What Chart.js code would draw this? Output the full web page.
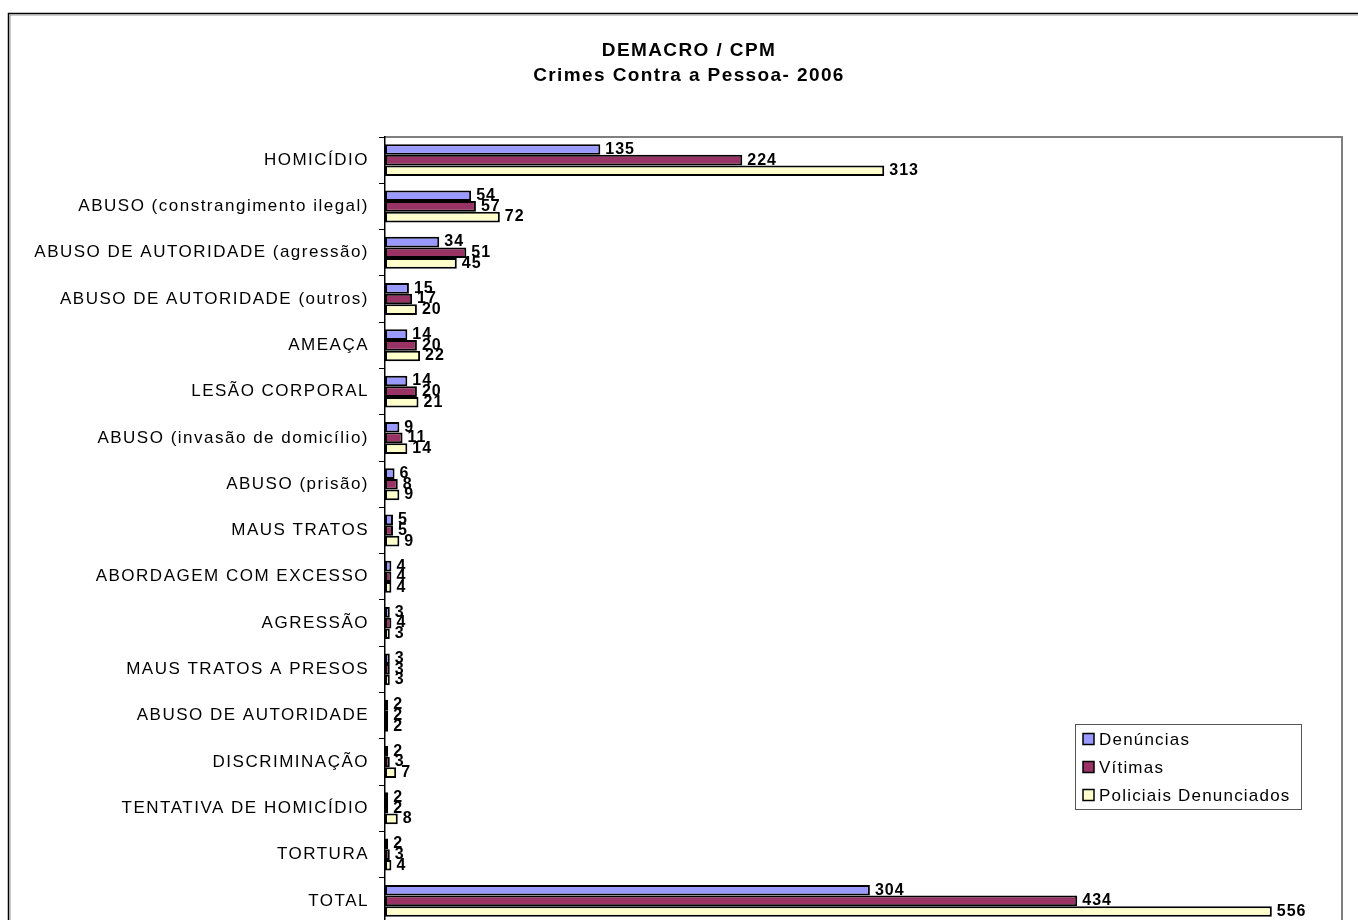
<!DOCTYPE html>
<html>
<head>
<meta charset="utf-8">
<script src="https://cdn.jsdelivr.net/npm/chart.js@4.4.1/dist/chart.umd.min.js"></script>
<style>
  html, body { margin:0; padding:0; background:#fff; overflow:hidden; }
  #wrap { position:relative; width:1358px; height:960px; }
</style>
</head>
<body>
<div id="wrap"><canvas id="chart" width="1358" height="960"></canvas></div>
<script>
// DEMACRO / CPM – crimes contra a pessoa, 2006
const titulo = ["DEMACRO / CPM", "Crimes Contra a Pessoa- 2006"];
const categorias = [
  "HOMICÍDIO", "ABUSO (constrangimento ilegal)", "ABUSO DE AUTORIDADE (agressão)",
  "ABUSO DE AUTORIDADE (outros)", "AMEAÇA", "LESÃO CORPORAL", "ABUSO (invasão de domicílio)",
  "ABUSO (prisão)", "MAUS TRATOS", "ABORDAGEM COM EXCESSO", "AGRESSÃO", "MAUS TRATOS A PRESOS",
  "ABUSO DE AUTORIDADE", "DISCRIMINAÇÃO", "TENTATIVA DE HOMICÍDIO", "TORTURA", "TOTAL",
];
const denuncias = [135, 54, 34, 15, 14, 14, 9, 6, 5, 4, 3, 3, 2, 2, 2, 2, 304];
const vitimas   = [224, 57, 51, 17, 20, 20, 11, 8, 5, 4, 4, 3, 2, 3, 2, 3, 434];
const policiais = [313, 72, 45, 20, 22, 21, 14, 9, 9, 4, 3, 3, 2, 7, 8, 4, 556];
const series = ["Denúncias", "Vítimas", "Policiais Denunciados"];
const eixoMax = 600;

const FONTE = '"Liberation Sans", Arial, sans-serif';
const CORES = ["#9999ff", "#993366", "#ffffcc"];

// espaçamento entre letras parecido com o do Excel
const espaco = {
  id:"espaco",
  beforeLayout(c) { c.ctx.letterSpacing = "1.5px"; },
  beforeDraw(c) { c.ctx.letterSpacing = "1.5px"; },
};

// moldura externa, borda cinza da área de plotagem e título
const moldura = {
  id:"moldura",
  beforeDraw(c) {
    const { ctx, chartArea:a } = c;
    ctx.save();
    ctx.fillStyle = "#fff";
    ctx.fillRect(0, 0, c.width, c.height);
    ctx.strokeStyle = "#000"; ctx.lineWidth = 1.5;
    ctx.strokeRect(8.5, 13.5, 1500, 1200);
    ctx.strokeStyle = "#999"; ctx.lineWidth = 1;
    ctx.strokeRect(10, 15, 1500, 1200);
    ctx.strokeStyle = "#808080"; ctx.lineWidth = 2;
    ctx.beginPath();
    ctx.moveTo(a.left, a.top); ctx.lineTo(a.right, a.top); ctx.lineTo(a.right, a.bottom + 40);
    ctx.stroke();

    ctx.letterSpacing = "1.4px";
    ctx.font = `bold 19px ${FONTE}`;
    ctx.fillStyle = "#000";
    ctx.textAlign = "center";
    ctx.textBaseline = "middle";
    titulo.forEach((t, i) => ctx.fillText(t, 689, 51 + i * 25));
    ctx.restore();
  },
};

// rótulos de valor no fim de cada barra
const rotulos = {
  id:"rotulos",
  afterDatasetsDraw(c) {
    const ctx = c.ctx;
    ctx.save();
    ctx.letterSpacing = "1px";
    ctx.font = `bold 16px ${FONTE}`;
    ctx.fillStyle = "#000";
    ctx.textBaseline = "middle";
    ctx.textAlign = "left";
    c.data.datasets.forEach((ds, i) => {
      c.getDatasetMeta(i).data.forEach((bar, j) => {
        ctx.fillText(String(ds.data[j]), bar.x + 5, bar.y);
      });
    });
    ctx.restore();
  },
};

// legenda em caixa dentro da área de plotagem
const legenda = {
  id:"legenda",
  afterDraw(c) {
    const ctx = c.ctx, a = c.chartArea;
    const x = a.right - 267, y = a.top + 587, w = 226, h = 85;
    ctx.save();
    ctx.letterSpacing = "1.2px";
    ctx.fillStyle = "#fff"; ctx.fillRect(x, y, w, h);
    ctx.strokeStyle = "#555"; ctx.lineWidth = 1;
    ctx.strokeRect(x + 0.5, y + 0.5, w, h);
    ctx.font = `17px ${FONTE}`;
    ctx.textBaseline = "middle";
    c.data.datasets.forEach((ds, i) => {
      const yy = y + 15 + i * 28;
      ctx.fillStyle = ds.backgroundColor;
      ctx.fillRect(x + 8, yy - 5.5, 11, 11);
      ctx.strokeStyle = "#000"; ctx.lineWidth = 1.5;
      ctx.strokeRect(x + 8, yy - 5.5, 11, 11);
      ctx.fillStyle = "#000";
      ctx.fillText(ds.label, x + 24, yy + 1);
    });
    ctx.restore();
  },
};

const dados = [denuncias, vitimas, policiais];

new Chart(document.getElementById("chart"), {
  type:"bar",
  data:{
    labels: categorias,
    datasets: series.map((nome, i) => ({
      label: nome,
      data: dados[i],
      backgroundColor: CORES[i],
      borderColor: "#000",
      borderWidth: 2,
      borderSkipped: false,
      barPercentage: 1.0,
      categoryPercentage: 0.69,
    })),
  },
  options:{
    indexAxis:"y",
    responsive:false,
    animation:false,
    layout:{ padding:{ left:8, right:16, top:137, bottom:36 } },
    scales:{
      x:{ display:false, min:0, max:eixoMax },
      y:{
        afterFit:(s) => { s.width = 377; },
        border:{ display:true, color:"#000", width:1.5 },
        grid:{ display:true, drawOnChartArea:false, drawTicks:true, tickLength:6, color:"#000", offset:true },
        ticks:{ color:"#000", padding:10, font:{ family:FONTE, size:17 }, autoSkip:false },
      },
    },
    plugins:{
      legend:{ display:false },
      tooltip:{ enabled:false },
      title:{ display:false },
    },
  },
  plugins:[espaco, moldura, rotulos, legenda],
});
</script>
</body>
</html>
